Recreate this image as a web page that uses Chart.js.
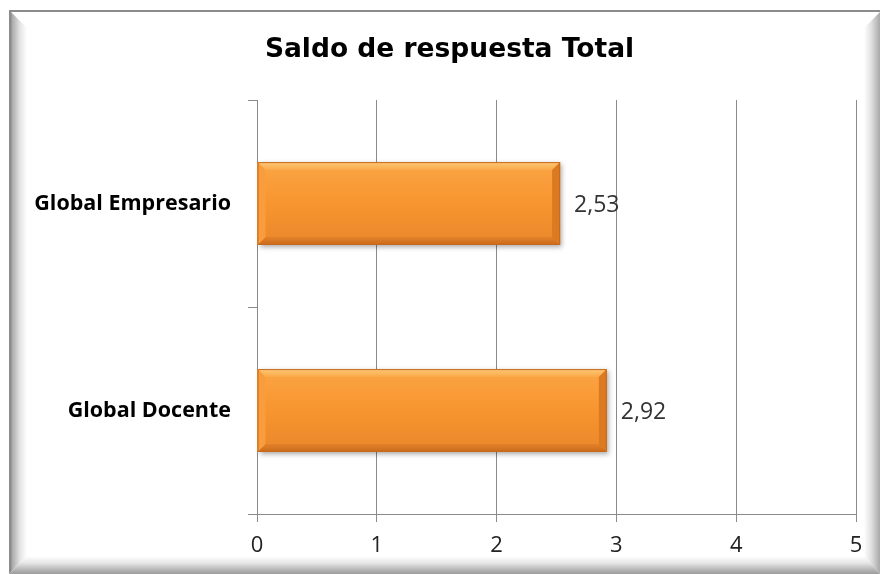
<!DOCTYPE html>
<html lang="es">

<head>
    <meta charset="UTF-8">
    <title>Saldo de respuesta Total</title>
    <script src="https://cdn.jsdelivr.net/npm/chart.js"></script>
    <style>
        body {
            margin: 0;
            background: #fff;
        }

        .wrap {
            position: relative;
            width: 880px;
            height: 574px;
        }

        .edge {
            position: absolute;
            pointer-events: none;
        }

        .top {
            left: 9px;
            top: 10px;
            width: 871px;
            height: 2px;
            background: #8c8c8c;
        }

        .left {
            left: 9px;
            top: 10px;
            width: 18px;
            height: 564px;
            background: linear-gradient(to right, #8c8c8c 0, #8c8c8c 2px, #a9a9a9 3px, #e4e4e4 11px, #fff 18px);
            clip-path: polygon(0 0, 100% 18px, 100% calc(100% - 18px), 0 100%);
        }

        .right {
            left: 864px;
            top: 12px;
            width: 16px;
            height: 562px;
            background: linear-gradient(to right, #fff 0, #e2e2e2 7px, #b5b5b5 14px, #a8a8a8 16px);
            clip-path: polygon(0 16px, 100% 0, 100% 100%, 0 calc(100% - 17px));
        }

        .bottom {
            left: 9px;
            top: 556px;
            width: 871px;
            height: 18px;
            background: linear-gradient(to bottom, #fff 0, #e6e6e6 7px, #b4b4b4 14px, #9c9c9c 18px);
            clip-path: polygon(18px 0, calc(100% - 16px) 0, 100% 100%, 0 100%);
        }
    </style>
</head>

<body>
    <div class="wrap">
        <canvas id="chart" width="880" height="574"></canvas>
        <div class="edge top"></div>
        <div class="edge left"></div>
        <div class="edge right"></div>
        <div class="edge bottom"></div>
    </div>

    <script>
        const categories = ['Global Empresario', 'Global Docente'];
        const saldo = [2.53, 2.92];
        const xTicks = [0, 1, 2, 3, 4, 5];
        const chartTitle = 'Saldo de respuesta Total';

        // title centred on the framed area (not on the chart area)
        const frameTitle = {
            id: 'frameTitle',
            afterDraw(chart) {
                const ctx = chart.ctx;
                ctx.save();
                ctx.font = 'bold 26.5px "DejaVu Sans", sans-serif';
                ctx.fillStyle = '#000';
                ctx.textAlign = 'center';
                ctx.textBaseline = 'middle';
                ctx.fillText(chartTitle, 449.5, 50);
                ctx.restore();
            }
        };

        // bevel look for the bars + value labels
        const barStyle = {
            id: 'barStyle',
            beforeDatasetsDraw(chart) {
                const ctx = chart.ctx;
                ctx.save();
                ctx.shadowColor = 'rgba(0,0,0,0.35)';
                ctx.shadowBlur = 5;
                ctx.shadowOffsetX = 2;
                ctx.shadowOffsetY = 2;
                chart.getDatasetMeta(0).data.forEach(bar => {
                    const top = bar.y - bar.height / 2;
                    ctx.fillStyle = '#f29130';
                    ctx.fillRect(bar.base, top, bar.x - bar.base, bar.height);
                });
                ctx.restore();
            },
            afterDatasetsDraw(chart) {
                const ctx = chart.ctx;
                chart.getDatasetMeta(0).data.forEach((bar, i) => {
                    const top = bar.y - bar.height / 2;
                    const bottom = bar.y + bar.height / 2;
                    const left = bar.base;
                    const right = bar.x;
                    const e = 8;
                    ctx.save();
                    // body gradient
                    let g = ctx.createLinearGradient(0, top, 0, bottom);
                    g.addColorStop(0, '#fba545');
                    g.addColorStop(0.5, '#f7952f');
                    g.addColorStop(1, '#ea872b');
                    ctx.fillStyle = g;
                    ctx.fillRect(left, top, right - left, bottom - top);
                    // top bevel
                    ctx.beginPath();
                    ctx.moveTo(left, top);
                    ctx.lineTo(right, top);
                    ctx.lineTo(right - e, top + e);
                    ctx.lineTo(left + e, top + e);
                    ctx.closePath();
                    g = ctx.createLinearGradient(0, top, 0, top + e);
                    g.addColorStop(0, '#fdc978');
                    g.addColorStop(1, '#fba848');
                    ctx.fillStyle = g;
                    ctx.fill();
                    // bottom bevel
                    ctx.beginPath();
                    ctx.moveTo(left, bottom);
                    ctx.lineTo(right, bottom);
                    ctx.lineTo(right - e, bottom - e);
                    ctx.lineTo(left + e, bottom - e);
                    ctx.closePath();
                    g = ctx.createLinearGradient(0, bottom - e, 0, bottom);
                    g.addColorStop(0, '#e4822a');
                    g.addColorStop(1, '#c96a1c');
                    ctx.fillStyle = g;
                    ctx.fill();
                    // left bevel
                    ctx.beginPath();
                    ctx.moveTo(left, top);
                    ctx.lineTo(left + e, top + e);
                    ctx.lineTo(left + e, bottom - e);
                    ctx.lineTo(left, bottom);
                    ctx.closePath();
                    ctx.fillStyle = '#f99d3c';
                    ctx.fill();
                    // right bevel
                    ctx.beginPath();
                    ctx.moveTo(right, top);
                    ctx.lineTo(right - e, top + e);
                    ctx.lineTo(right - e, bottom - e);
                    ctx.lineTo(right, bottom);
                    ctx.closePath();
                    ctx.fillStyle = '#dc7a22';
                    ctx.fill();
                    ctx.strokeStyle = '#c8691c';
                    ctx.lineWidth = 1;
                    ctx.strokeRect(left + 0.5, top + 0.5, right - left - 1, bottom - top - 1);
                    // value label
                    ctx.font = '23px "Open Sans", sans-serif';
                    ctx.fillStyle = '#333';
                    ctx.textAlign = 'left';
                    ctx.textBaseline = 'middle';
                    ctx.fillText(saldo[i].toFixed(2).replace('.', ','), right + 14, bar.y + 2);
                    ctx.restore();
                });
            }
        };

        const ctx = document.getElementById('chart').getContext('2d');
        const chart = new Chart(ctx, {
            type: 'bar',
            data: {
                labels: categories,
                datasets: [{
                    data: saldo,
                    backgroundColor: 'rgba(0,0,0,0)',
                    borderWidth: 0,
                    barPercentage: 0.8,
                    categoryPercentage: 0.5
                }]
            },
            options: {
                indexAxis: 'y',
                responsive: false,
                animation: false,
                layout: {
                    padding: { left: 0, right: 24, top: 100, bottom: 0 }
                },
                plugins: {
                    legend: { display: false },
                    tooltip: { enabled: false },
                    title: { display: false }
                },
                scales: {
                    x: {
                        min: 0,
                        max: 5,
                        afterBuildTicks: s => { s.ticks = xTicks.map(v => ({ value: v })); },
                        afterFit: s => { s.height = 60; },
                        grid: { color: '#8a8a8a', tickLength: 8 },
                        border: { color: '#8a8a8a' },
                        ticks: {
                            color: '#222',
                            padding: 11,
                            font: { family: '"Open Sans", sans-serif', size: 22 }
                        }
                    },
                    y: {
                        afterFit: s => { s.width = 257; },
                        grid: { drawOnChartArea: false, color: '#8a8a8a', tickLength: 9 },
                        border: { color: '#8a8a8a' },
                        ticks: {
                            color: '#000',
                            padding: 17,
                            font: { family: '"Open Sans", sans-serif', size: 21.5, weight: 'bold' }
                        }
                    }
                }
            },
            plugins: [barStyle, frameTitle]
        });
    </script>
</body>

</html>
